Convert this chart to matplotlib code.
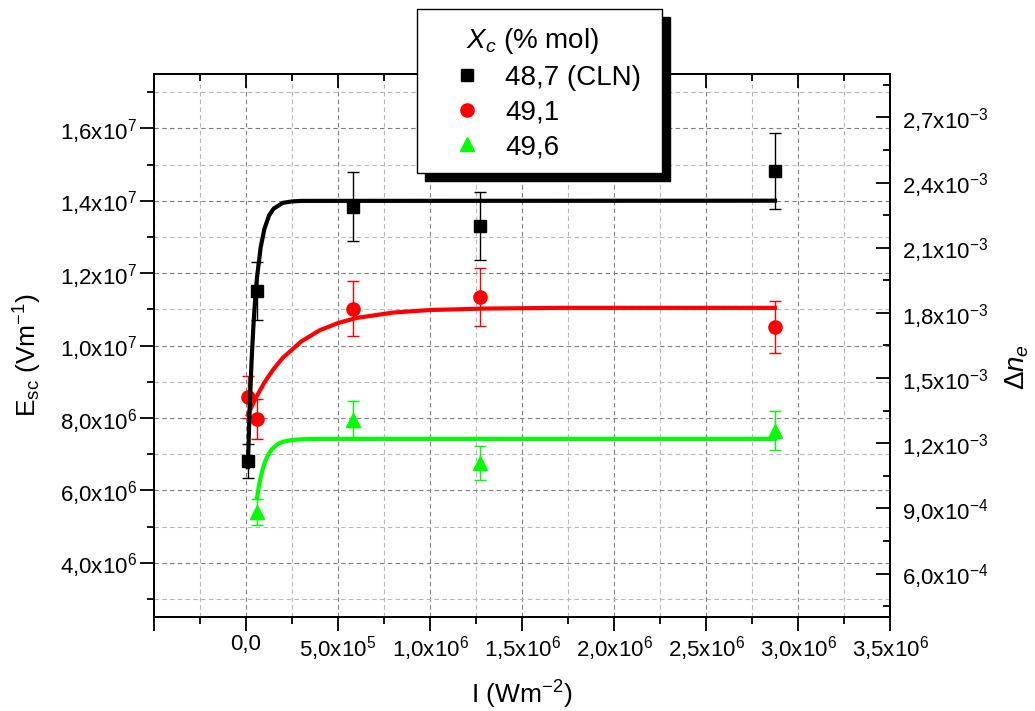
import numpy as np
import matplotlib
matplotlib.use("Agg")
import matplotlib.pyplot as plt
from matplotlib.ticker import MultipleLocator, FuncFormatter
from matplotlib.lines import Line2D
from matplotlib.patches import Rectangle

plt.rcParams.update({
    "font.family": "Liberation Sans",
    "mathtext.fontset": "custom",
    "mathtext.rm": "Liberation Sans",
    "mathtext.it": "Liberation Sans:italic",
    "mathtext.bf": "Liberation Sans:bold",
})

# ── data ──
# X_c = 48,7 % mol (CLN)
x_cln = [1.0e4, 6.0e4, 5.8e5, 1.27e6, 2.875e6]
y_cln = [6.81e6, 1.151e7, 1.383e7, 1.33e7, 1.482e7]
err_cln = [4.8e5, 8.1e5, 9.5e5, 9.3e5, 1.04e6]

# X_c = 49,1 % mol
x_491 = [1.0e4, 6.0e4, 5.8e5, 1.27e6, 2.875e6]
y_491 = [8.58e6, 7.97e6, 1.101e7, 1.134e7, 1.051e7]
err_491 = [5.9e5, 5.5e5, 7.6e5, 7.9e5, 7.3e5]

# X_c = 49,6 % mol
x_496 = [6.0e4, 5.8e5, 1.27e6, 2.875e6]
y_496 = [5.40e6, 7.94e6, 6.75e6, 7.64e6]
err_496 = [3.7e5, 5.4e5, 4.7e5, 5.4e5]

# fitted curves, sampled along the drawn lines
fit_x_cln = [1e4, 2e4, 3e4, 4e4, 5e4, 6e4, 8e4, 1e5, 1.25e5, 1.5e5, 2e5, 2.5e5, 3e5, 2.875e6]
fit_y_cln = [6.64e6, 8.27e6, 9.54e6, 1.052e7, 1.129e7, 1.189e7, 1.272e7, 1.322e7,
             1.359e7, 1.378e7, 1.394e7, 1.398e7, 1.3995e7, 1.40e7]

fit_x_491 = [1e4, 5e4, 1e5, 1.5e5, 2e5, 3e5, 4e5, 5e5, 6e5, 8e5, 1e6, 1.3e6, 1.7e6, 2.875e6]
fit_y_491 = [8.08e6, 8.52e6, 8.98e6, 9.35e6, 9.66e6, 1.011e7, 1.042e7, 1.062e7,
             1.076e7, 1.091e7, 1.098e7, 1.102e7, 1.104e7, 1.104e7]

fit_x_496 = [6e4, 7e4, 8e4, 9e4, 1e5, 1.2e5, 1.4e5, 1.7e5, 2e5, 2.5e5, 3e5, 4e5, 2.875e6]
fit_y_496 = [5.79e6, 6.11e6, 6.36e6, 6.57e6, 6.74e6, 6.98e6, 7.13e6, 7.27e6,
             7.34e6, 7.39e6, 7.41e6, 7.42e6, 7.42e6]

series_labels = ["48,7 (CLN)", "49,1", "49,6"]
series_colors = ["black", "#ff0000", "#00ff00"]


def sci_comma(v, pos=None):
    if abs(v) < 1e-12:
        return "0,0"
    if v < 0:
        return ""
    exp = int(np.floor(np.log10(v) + 1e-9))
    mant = v / 10 ** exp
    return f"{mant:.1f}".replace(".", ",") + f"x10$^{{{exp}}}$"


W, H = 1035, 711
fig = plt.figure(figsize=(W / 100, H / 100), dpi=100)
ax = fig.add_axes([154 / W, 1 - 617 / H, 736 / W, 543 / H])
ax2 = ax.twinx()

markers = ["s", "o", "^"]
msizes = [8, 9.5, 10]
data = [(x_cln, y_cln, err_cln), (x_491, y_491, err_491), (x_496, y_496, err_496)]
fits = [(fit_x_cln, fit_y_cln), (fit_x_491, fit_y_491), (fit_x_496, fit_y_496)]

for (xs, ys, es), m, ms, c in zip(data, markers, msizes, series_colors):
    ax.errorbar(xs, ys, yerr=es, fmt=m, ms=ms, color=c, mec=c, ecolor=c,
                elinewidth=1.0, capsize=4.5, capthick=1.0, zorder=3)

# draw order: green, red, black on top
for i in [2, 1, 0]:
    fx, fy = fits[i]
    ax.plot(fx, fy, color=series_colors[i], lw=3.0, zorder=4)

ax.set_xlim(-5e5, 3.5e6)
ax.set_ylim(2.5e6, 1.75e7)
ax2.set_ylim(4e-4, 2.9e-3)

ax.xaxis.set_major_locator(MultipleLocator(5e5))
ax.xaxis.set_minor_locator(MultipleLocator(2.5e5))
ax.yaxis.set_major_locator(MultipleLocator(2e6))
ax.yaxis.set_minor_locator(MultipleLocator(1e6))
ax2.yaxis.set_major_locator(MultipleLocator(3e-4))
ax2.yaxis.set_minor_locator(MultipleLocator(1.5e-4))

ax.xaxis.set_major_formatter(FuncFormatter(sci_comma))
ax.yaxis.set_major_formatter(FuncFormatter(sci_comma))
ax2.yaxis.set_major_formatter(FuncFormatter(sci_comma))

ax.grid(which="major", color="#808080", ls=(0, (4, 3)), lw=0.8)
ax.grid(which="minor", color="#b8b8b8", ls=(0, (4, 3)), lw=0.8)
ax.set_axisbelow(True)

ax.tick_params(which="major", direction="out", length=10, width=1.3,
               labelsize=16, pad=2.5)
ax.tick_params(which="minor", direction="out", length=5, width=1.3)
ax2.tick_params(axis="y", which="major", direction="in", length=10, width=1.3,
                labelsize=16, pad=9)
ax2.tick_params(axis="y", which="minor", direction="in", length=5, width=1.3)

# ticks along the top edge, pointing in
ax2.xaxis.set_visible(True)
ax2.xaxis.tick_top()
ax2.tick_params(axis="x", which="major", direction="in", length=10, width=1.3,
                labeltop=False, labelbottom=False)
ax2.tick_params(axis="x", which="minor", direction="in", length=5, width=1.3)

for a in (ax, ax2):
    for s in a.spines.values():
        s.set_linewidth(1.4)

fig.text(522 / W, 1 - 695 / H, r"I (Wm$^{-2}$)", fontsize=19,
         ha="center", va="center")
fig.text(28 / W, 1 - 355 / H, r"E$_{\mathrm{sc}}$ (Vm$^{-1}$)", fontsize=19,
         ha="center", va="center", rotation=90)
fig.text(1017 / W, 1 - 367 / H, r"$\Delta n_e$", fontsize=20,
         ha="center", va="center", rotation=90)

# legend box with hard black shadow
bx0, by0, bx1, by1 = 417, 9, 662, 173
fig.add_artist(Rectangle(((bx0 + 8) / W, 1 - (by1 + 8) / H), (bx1 - bx0) / W,
                         (by1 - by0) / H, transform=fig.transFigure,
                         facecolor="black", edgecolor="black", zorder=4.4))
fig.add_artist(Rectangle((bx0 / W, 1 - by1 / H), (bx1 - bx0) / W,
                         (by1 - by0) / H, transform=fig.transFigure,
                         facecolor="white", edgecolor="black", lw=1.0, zorder=4.5))

fig.text(533 / W, 1 - 41 / H, r"$X_c$ (% mol)", fontsize=20,
         ha="center", va="center", zorder=5)

handles = [Line2D([], [], ls="none", marker=m, ms=ms, color=c)
           for m, ms, c in zip(markers, msizes, series_colors)]
leg = fig.legend(handles, series_labels,
                 loc="upper left", bbox_to_anchor=(446 / W, 1 - 65 / H),
                 frameon=False, fontsize=20,
                 borderpad=0, borderaxespad=0, handlelength=1.5,
                 handletextpad=0.62, labelspacing=0.31)
leg.set_zorder(5)

fig.savefig("out.png", dpi=100, facecolor="white")
